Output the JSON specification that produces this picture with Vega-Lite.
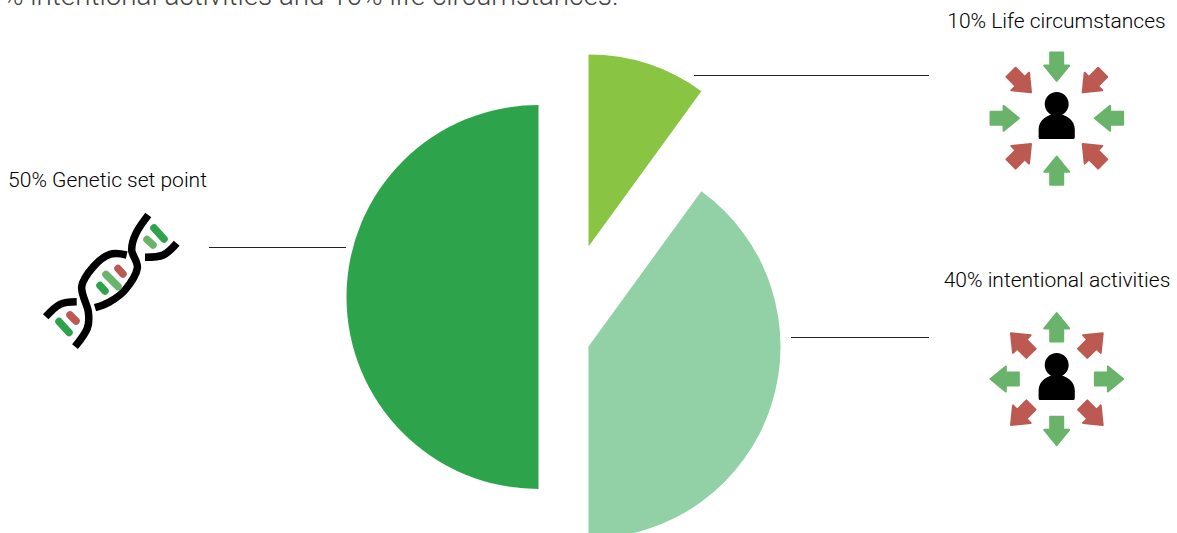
{
  "$schema": "https://vega.github.io/schema/vega-lite/v6.json",
  "width": 1177,
  "height": 533,
  "padding": 0,
  "autosize": {"type": "none"},
  "background": "white",
  "config": {"view": {"stroke": null}},
  "datasets": {
    "happiness": [
      {"segment": "Life circumstances", "share": 10, "start": 0, "end": 10, "x": 588.5, "y": 246.5},
      {"segment": "Intentional activities", "share": 40, "start": 10, "end": 50, "x": 588.5, "y": 346.5},
      {"segment": "Genetic set point", "share": 50, "start": 50, "end": 100, "x": 538.5, "y": 297}
    ],
    "leaders": [
      {"segment": "Genetic set point", "x": 209, "x2": 346, "y": 247.5},
      {"segment": "Life circumstances", "x": 694, "x2": 929, "y": 75.5},
      {"segment": "Intentional activities", "x": 791, "x2": 929, "y": 337.5}
    ],
    "labels": [
      {"label": "50% Genetic set point", "x": 107.5, "y": 187},
      {"label": "10% Life circumstances", "x": 1056.5, "y": 28},
      {"label": "40% intentional activities", "x": 1057, "y": 287}
    ],
    "arrows": [
      {"icon": "in", "tone": "good", "x": 1056.7, "y": 66.7, "heading": 180},
      {"icon": "in", "tone": "good", "x": 1056.7, "y": 170.7, "heading": 0},
      {"icon": "in", "tone": "good", "x": 1004.7, "y": 118.3, "heading": 90},
      {"icon": "in", "tone": "good", "x": 1109, "y": 118.3, "heading": 270},
      {"icon": "in", "tone": "bad", "x": 1021, "y": 82.3, "heading": 135},
      {"icon": "in", "tone": "bad", "x": 1092.7, "y": 82.3, "heading": 225},
      {"icon": "in", "tone": "bad", "x": 1021, "y": 154, "heading": 45},
      {"icon": "in", "tone": "bad", "x": 1092.7, "y": 154, "heading": 315},
      {"icon": "out", "tone": "good", "x": 1056.7, "y": 327.3, "heading": 0},
      {"icon": "out", "tone": "good", "x": 1056.7, "y": 431, "heading": 180},
      {"icon": "out", "tone": "good", "x": 1004.7, "y": 379, "heading": 270},
      {"icon": "out", "tone": "good", "x": 1109, "y": 379, "heading": 90},
      {"icon": "out", "tone": "bad", "x": 1021, "y": 343.3, "heading": 315},
      {"icon": "out", "tone": "bad", "x": 1092.7, "y": 343.3, "heading": 45},
      {"icon": "out", "tone": "bad", "x": 1021, "y": 415, "heading": 225},
      {"icon": "out", "tone": "bad", "x": 1092.7, "y": 415, "heading": 135}
    ],
    "people": [
      {"icon": "in", "x": 1056.7, "y": 115.5},
      {"icon": "out", "x": 1056.7, "y": 376.5}
    ],
    "strands": [
      {"strand": "a1", "step": 0, "x": 148.3, "y": 215},
      {"strand": "a1", "step": 1, "x": 136, "y": 233.3},
      {"strand": "a1", "step": 2, "x": 131.7, "y": 250},
      {"strand": "a1", "step": 3, "x": 137.3, "y": 268.3},
      {"strand": "a1", "step": 4, "x": 125, "y": 290},
      {"strand": "a1", "step": 5, "x": 110, "y": 301.7},
      {"strand": "a1", "step": 6, "x": 95, "y": 307.7},
      {"strand": "a2", "step": 0, "x": 76.7, "y": 301.7},
      {"strand": "a2", "step": 1, "x": 60, "y": 304.3},
      {"strand": "a2", "step": 2, "x": 45.7, "y": 316.7},
      {"strand": "b1", "step": 0, "x": 176.7, "y": 243.3},
      {"strand": "b1", "step": 1, "x": 163.3, "y": 255},
      {"strand": "b1", "step": 2, "x": 145, "y": 257.3},
      {"strand": "b2", "step": 0, "x": 126.7, "y": 255},
      {"strand": "b2", "step": 1, "x": 110, "y": 254.3},
      {"strand": "b2", "step": 2, "x": 93.3, "y": 266.7},
      {"strand": "b2", "step": 3, "x": 81.7, "y": 286.7},
      {"strand": "b2", "step": 4, "x": 88.3, "y": 311.7},
      {"strand": "b2", "step": 5, "x": 87.3, "y": 328.3},
      {"strand": "b2", "step": 6, "x": 75, "y": 346.7}
    ],
    "rungs": [
      {"tone": "deep", "x": 154, "y": 228, "x2": 164, "y2": 239},
      {"tone": "good", "x": 147, "y": 239.5, "x2": 153, "y2": 245},
      {"tone": "bad", "x": 118, "y": 268.5, "x2": 123, "y2": 274},
      {"tone": "good", "x": 106, "y": 274.5, "x2": 118, "y2": 286.5},
      {"tone": "deep", "x": 100, "y": 285.5, "x2": 105, "y2": 291},
      {"tone": "bad", "x": 70, "y": 315, "x2": 76, "y2": 321},
      {"tone": "deep", "x": 59, "y": 321.5, "x2": 69, "y2": 332.5}
    ]
  },
  "encoding": {
    "x": {"field": "x", "type": "quantitative", "axis": null, "scale": {"domain": [0, 1177], "nice": false, "zero": false}},
    "y": {"field": "y", "type": "quantitative", "axis": null, "scale": {"domain": [533, 0], "nice": false, "zero": false}}
  },
  "layer": [
    {
      "data": {"name": "happiness"},
      "mark": {"type": "arc", "radius": 192, "stroke": null},
      "encoding": {
        "theta": {"field": "start", "type": "quantitative", "stack": false, "scale": {"domain": [0, 100], "range": [0, 6.283185]}},
        "theta2": {"field": "end"},
        "color": {
          "field": "segment",
          "type": "nominal",
          "legend": null,
          "scale": {
            "domain": ["Life circumstances", "Intentional activities", "Genetic set point"],
            "range": ["#89c543", "#92d0a6", "#2da44c"]
          }
        }
      }
    },
    {
      "data": {"name": "leaders"},
      "mark": {"type": "rule", "color": "#222222", "strokeWidth": 1},
      "encoding": {"x2": {"field": "x2"}}
    },
    {
      "data": {"name": "labels"},
      "mark": {"type": "text", "font": "Roboto", "fontWeight": 300, "fontSize": 21, "align": "center", "baseline": "alphabetic", "color": "#000000"},
      "encoding": {"text": {"field": "label", "type": "nominal"}}
    },
    {
      "data": {"values": [{"sentence": "% intentional activities and 10% life circumstances.", "x": 3, "y": 5}]},
      "mark": {"type": "text", "font": "Roboto", "fontWeight": 300, "fontSize": 27.8, "align": "left", "baseline": "alphabetic", "color": "#444444"},
      "encoding": {"text": {"field": "sentence", "type": "nominal"}}
    },
    {
      "data": {"name": "arrows"},
      "mark": {
        "type": "point",
        "filled": true,
        "opacity": 1,
        "size": 800,
        "strokeWidth": 2,
        "strokeJoin": "round",
        "shape": "M0,-1 L.88,.08 L.46,.08 L.46,1 L-.46,1 L-.46,.08 L-.88,.08 Z"
      },
      "encoding": {
        "angle": {"field": "heading", "type": "quantitative", "scale": null},
        "color": {
          "field": "tone",
          "type": "nominal",
          "legend": null,
          "scale": {"domain": ["good", "bad"], "range": ["#69b36b", "#bc5a52"]}
        },
        "stroke": {
          "field": "tone",
          "type": "nominal",
          "legend": null,
          "scale": {"domain": ["good", "bad"], "range": ["#69b36b", "#bc5a52"]}
        }
      }
    },
    {
      "data": {"name": "people"},
      "mark": {
        "type": "point",
        "filled": true,
        "opacity": 1,
        "color": "#000000",
        "size": 2209,
        "shape": "M-.51,-.49 A.51,.51 0 1 1 .51,-.49 A.51,.51 0 1 1 -.51,-.49 Z M-.72,1 Q-.77,1 -.77,.9 L-.77,.6 C-.77,.2 -.4,-.06 0,-.06 C.4,-.06 .77,.2 .77,.6 L.77,.9 Q.77,1 .72,1 Z"
      }
    },
    {
      "data": {"name": "strands"},
      "mark": {"type": "line", "color": "#000000", "strokeWidth": 7.5, "interpolate": "cardinal", "strokeCap": "butt"},
      "encoding": {
        "detail": {"field": "strand", "type": "nominal"},
        "order": {"field": "step", "type": "quantitative"}
      }
    },
    {
      "data": {"name": "rungs"},
      "mark": {"type": "rule", "strokeWidth": 7.5, "strokeCap": "round"},
      "encoding": {
        "x2": {"field": "x2"},
        "y2": {"field": "y2"},
        "color": {
          "field": "tone",
          "type": "nominal",
          "legend": null,
          "scale": {"domain": ["deep", "good", "bad"], "range": ["#2da44c", "#69b36b", "#bc5a52"]}
        }
      }
    }
  ],
  "resolve": {"scale": {"color": "independent"}}
}
